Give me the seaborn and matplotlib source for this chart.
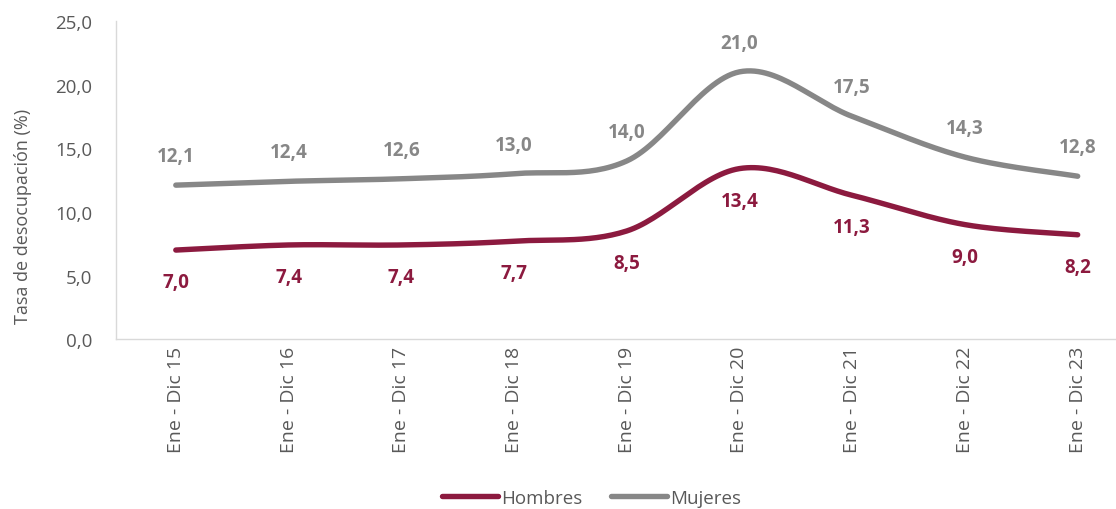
import numpy as np
import pandas as pd
import matplotlib
matplotlib.use("Agg")
import matplotlib.pyplot as plt
import seaborn as sns

categories = ["Ene - Dic 15", "Ene - Dic 16", "Ene - Dic 17", "Ene - Dic 18", "Ene - Dic 19",
              "Ene - Dic 20", "Ene - Dic 21", "Ene - Dic 22", "Ene - Dic 23"]
hombres = [7.0, 7.4, 7.4, 7.7, 8.5, 13.4, 11.3, 9.0, 8.2]
mujeres = [12.1, 12.4, 12.6, 13.0, 14.0, 21.0, 17.5, 14.3, 12.8]
yticks = [0, 5, 10, 15, 20, 25]

C_H = "#8C1A3F"
C_M = "#878787"
TXT = "#595959"
FS = 13.5

sns.set_theme(style="white")
plt.rcParams["font.family"] = ["Open Sans", "DejaVu Sans"]


def smooth(y, n=30):
    # Excel-like smoothed line (Bezier with tension 1/6)
    x = np.arange(len(y), dtype=float)
    y = np.asarray(y, dtype=float)
    xs, ys = [], []
    for i in range(len(y) - 1):
        p0 = (x[i - 1], y[i - 1]) if i > 0 else (x[i], y[i])
        p1 = (x[i], y[i])
        p2 = (x[i + 1], y[i + 1])
        p3 = (x[i + 2], y[i + 2]) if i + 2 < len(y) else (x[i + 1], y[i + 1])
        c1 = (p1[0] + (p2[0] - p0[0]) / 6, p1[1] + (p2[1] - p0[1]) / 6)
        c2 = (p2[0] - (p3[0] - p1[0]) / 6, p2[1] - (p3[1] - p1[1]) / 6)
        t = np.linspace(0, 1, n, endpoint=(i == len(y) - 2))
        bx = (1 - t) ** 3 * p1[0] + 3 * (1 - t) ** 2 * t * c1[0] + 3 * (1 - t) * t ** 2 * c2[0] + t ** 3 * p2[0]
        by = (1 - t) ** 3 * p1[1] + 3 * (1 - t) ** 2 * t * c1[1] + 3 * (1 - t) * t ** 2 * c2[1] + t ** 3 * p2[1]
        xs.append(bx)
        ys.append(by)
    return np.concatenate(xs), np.concatenate(ys)


fig = plt.figure(figsize=(11.16, 5.10), dpi=100)
ax = fig.add_axes([0.104, 0.333, 0.896, 0.624])

for name, vals, col in [("Hombres", hombres, C_H), ("Mujeres", mujeres, C_M)]:
    sx, sy = smooth(vals)
    df = pd.DataFrame({"x": sx, "y": sy})
    sns.lineplot(data=df, x="x", y="y", sort=False, ax=ax, color=col, lw=3.9,
                 solid_capstyle="round", label=name)

for i, v in enumerate(mujeres):
    ax.annotate(f"{v:.1f}".replace(".", ","), (i, v), xytext=(0, 29), textcoords="offset pixels",
                ha="center", va="center", fontsize=FS, fontweight="bold", color=C_M)
for i, v in enumerate(hombres):
    ax.annotate(f"{v:.1f}".replace(".", ","), (i, v), xytext=(0, -32), textcoords="offset pixels",
                ha="center", va="center", fontsize=FS, fontweight="bold", color=C_H)

ax.set_ylim(0, 25)
ax.set_xlim(-0.53, 8.34)
ax.set_yticks(yticks)
ax.set_yticklabels([f"{t:.1f}".replace(".", ",") for t in yticks], color=TXT, fontsize=FS)
ax.set_xticks(range(len(categories)))
ax.set_xticklabels(categories, rotation=90, color=TXT, fontsize=14)
ax.tick_params(axis="y", length=0, pad=17)
ax.tick_params(axis="x", length=0, pad=5)
ax.set_xlabel("")
ax.set_ylabel("Tasa de desocupación (%)", color=TXT, fontsize=13)
ax.yaxis.set_label_coords(-0.084, 0.39)

for s in ["top", "right"]:
    ax.spines[s].set_visible(False)
for s in ["left", "bottom"]:
    ax.spines[s].set_color("#D9D9D9")
    ax.spines[s].set_linewidth(1)

ax.legend(loc="center", bbox_to_anchor=(0.53, 0.022), bbox_transform=fig.transFigure,
          ncol=2, frameon=False, fontsize=FS, handlelength=3.0, columnspacing=1.5,
          labelcolor=TXT, handletextpad=0.15)

fig.savefig("out.png", dpi=100)
